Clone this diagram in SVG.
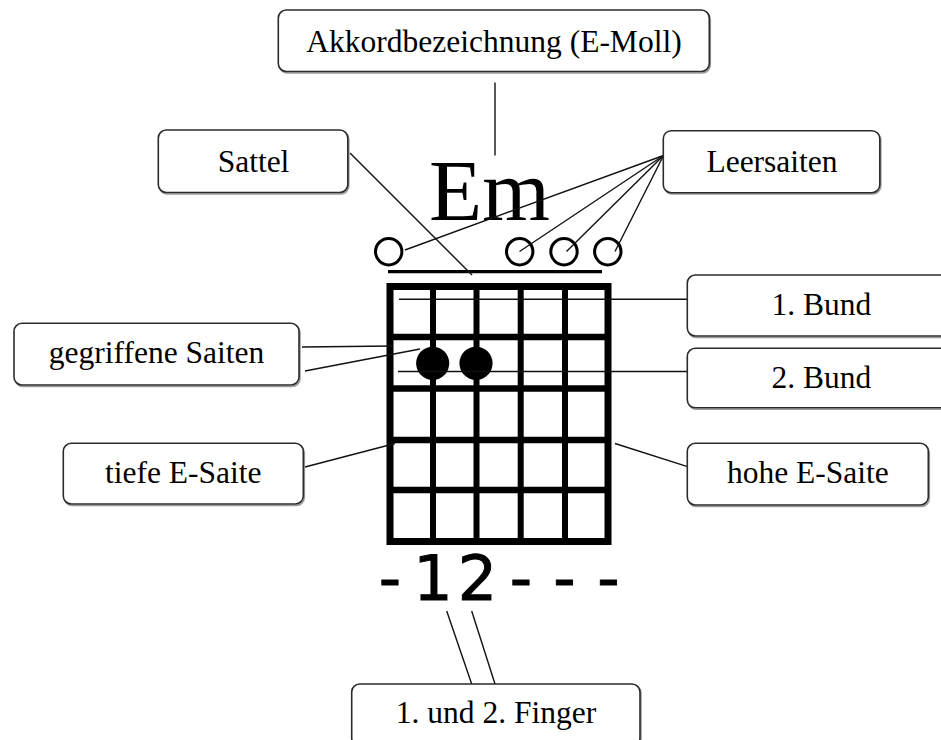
<svg xmlns="http://www.w3.org/2000/svg" width="941" height="740" viewBox="0 0 941 740">
  <defs>
    <style>
      .box rect.bg { fill: #ffffff; stroke: #2b2b2b; stroke-width: 1.6; }
      .box rect.sh { fill: none; stroke: #9a9a9a; stroke-width: 1.6; }
      .lbl { font-size: 31.5px; fill: #000; text-anchor: middle; }
      .link { stroke: #111; stroke-width: 1.4; fill: none; }
      .fret { stroke: #000; stroke-width: 6.5; }
      .str { stroke: #000; stroke-width: 6; }
      .open { fill: #fff; stroke: #000; stroke-width: 3; }
      .dot { fill: #000; }
      .tab { font-size: 62px; fill: #000; stroke: #000; stroke-width: 0.9; text-anchor: middle; }
    </style>
  </defs>
  <rect width="941" height="740" fill="#ffffff"/>

  <!-- chord name -->
  <text id="chord-name" x="429" y="220" font-family="Liberation Serif, serif" font-size="87" fill="#000">Em</text>

  <!-- chord diagram: nut, open strings, frets, strings, pressed dots -->
  <g id="chord-diagram">
    <line x1="388" y1="271.7" x2="602" y2="271.7" stroke="#000" stroke-width="3.2"/>
    <circle class="open" cx="388.7" cy="251.7" r="13.2"/>
    <circle class="open" cx="519.7" cy="251.7" r="13.2"/>
    <circle class="open" cx="564" cy="251.7" r="13.2"/>
    <circle class="open" cx="607.8" cy="251.7" r="13.2"/>
    <line class="str" x1="433" y1="286" x2="433" y2="542"/>
    <line class="str" x1="476.5" y1="286" x2="476.5" y2="542"/>
    <line class="str" x1="520.7" y1="286" x2="520.7" y2="542"/>
    <line class="str" x1="565" y1="286" x2="565" y2="542"/>
    <line class="fret" x1="390" y1="337" x2="608" y2="337"/>
    <line class="fret" x1="390" y1="388.5" x2="608" y2="388.5"/>
    <line class="fret" x1="390" y1="440" x2="608" y2="440"/>
    <line class="fret" x1="390" y1="490" x2="608" y2="490"/>
    <rect x="390" y="286.5" width="218" height="255" fill="none" stroke="#000" stroke-width="7"/>
    <circle class="dot" cx="432.7" cy="363.3" r="16.6"/>
    <circle class="dot" cx="476" cy="363.3" r="16.6"/>
  </g>

  <!-- tab line under the diagram -->
  <g id="tab" font-family="DejaVu Sans, sans-serif">
    <text class="tab" x="390" y="600">-</text>
    <text class="tab" x="433" y="600">1</text>
    <text class="tab" x="477.5" y="600">2</text>
    <text class="tab" x="521" y="600">-</text>
    <text class="tab" x="564.5" y="600">-</text>
    <text class="tab" x="608.5" y="600">-</text>
  </g>

  <!-- connectors -->
  <g id="connectors">
    <line class="link" x1="495" y1="82.5" x2="495" y2="155.5"/>
    <line class="link" x1="350" y1="153" x2="472" y2="275"/>
    <line class="link" x1="663.5" y1="155.5" x2="405" y2="250"/>
    <line class="link" x1="663.5" y1="155.5" x2="519.5" y2="251.5"/>
    <line class="link" x1="663.5" y1="155.5" x2="566.5" y2="251.5"/>
    <line class="link" x1="663.5" y1="155.5" x2="615" y2="251.5"/>
    <line class="link" x1="399" y1="299.3" x2="688" y2="299.3"/>
    <line class="link" x1="398" y1="371.5" x2="688" y2="371.5"/>
    <line class="link" x1="302" y1="347" x2="393" y2="346"/>
    <line class="link" x1="305" y1="371" x2="420" y2="349"/>
    <line class="link" x1="305" y1="467" x2="395" y2="443.5"/>
    <line class="link" x1="615" y1="443.5" x2="687.5" y2="466.7"/>
    <line class="link" x1="446.7" y1="611" x2="471.7" y2="684"/>
    <line class="link" x1="471.7" y1="611" x2="495" y2="684"/>
  </g>

  <!-- label nodes -->
  <g id="labels" font-family="Liberation Serif, serif">
    <g id="akkordbezeichnung" class="box">
      <rect class="sh" x="279.3" y="11.5" width="431" height="61.5" rx="8"/>
      <rect class="bg" x="278.3" y="10" width="431" height="61.5" rx="8"/>
      <text class="lbl" x="494" y="51.7">Akkordbezeichnung (E-Moll)</text>
    </g>
    <g id="sattel" class="box">
      <rect class="sh" x="159.3" y="131.5" width="189.5" height="62.5" rx="8"/>
      <rect class="bg" x="158.3" y="130" width="189.5" height="62.5" rx="8"/>
      <text class="lbl" x="253.5" y="171.7">Sattel</text>
    </g>
    <g id="leersaiten" class="box">
      <rect class="sh" x="664.3" y="132" width="216.5" height="62" rx="8"/>
      <rect class="bg" x="663.3" y="130.7" width="216.5" height="62" rx="8"/>
      <text class="lbl" x="772" y="172.3">Leersaiten</text>
    </g>
    <g id="bund-1" class="box">
      <rect class="sh" x="688.3" y="276.5" width="268" height="61" rx="8"/>
      <rect class="bg" x="687.3" y="275" width="268" height="61" rx="8"/>
      <text class="lbl" x="821.5" y="315">1. Bund</text>
    </g>
    <g id="bund-2" class="box">
      <rect class="sh" x="688.3" y="349.8" width="268" height="59.5" rx="8"/>
      <rect class="bg" x="687.3" y="348.3" width="268" height="59.5" rx="8"/>
      <text class="lbl" x="821.5" y="387.7">2. Bund</text>
    </g>
    <g id="gegriffene-saiten" class="box">
      <rect class="sh" x="15" y="324.8" width="285" height="61.7" rx="8"/>
      <rect class="bg" x="14" y="323.3" width="285" height="61.7" rx="8"/>
      <text class="lbl" x="156.5" y="363.3">gegriffene Saiten</text>
    </g>
    <g id="tiefe-e-saite" class="box">
      <rect class="sh" x="64.3" y="444.8" width="240" height="60.7" rx="8"/>
      <rect class="bg" x="63.3" y="443.3" width="240" height="60.7" rx="8"/>
      <text class="lbl" x="183.3" y="483.3">tiefe E-Saite</text>
    </g>
    <g id="hohe-e-saite" class="box">
      <rect class="sh" x="688.3" y="444.8" width="241" height="61.7" rx="8"/>
      <rect class="bg" x="687.3" y="443.3" width="241" height="61.7" rx="8"/>
      <text class="lbl" x="807.8" y="483.3">hohe E-Saite</text>
    </g>
    <g id="finger" class="box">
      <rect class="sh" x="352.7" y="685.5" width="288.3" height="62" rx="8"/>
      <rect class="bg" x="351.7" y="684" width="288.3" height="62" rx="8"/>
      <text class="lbl" x="496" y="723.3">1. und 2. Finger</text>
    </g>
  </g>
</svg>
